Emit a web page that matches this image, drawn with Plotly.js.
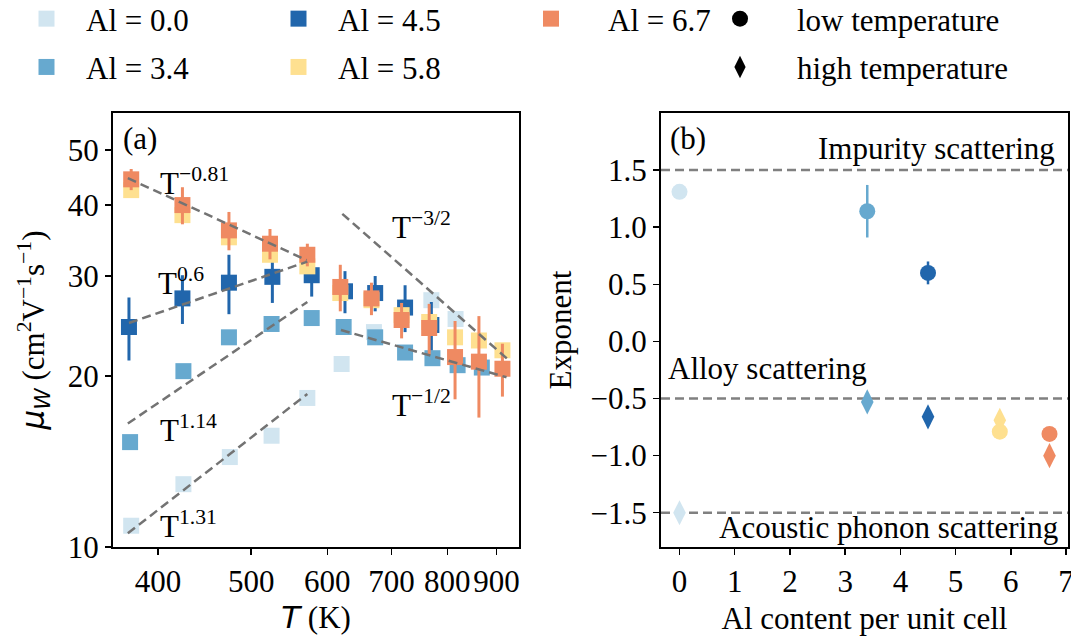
<!DOCTYPE html>
<html><head><meta charset="utf-8">
<script src="https://cdn.plot.ly/plotly-3.0.1.min.js"></script>
<style>html,body{margin:0;padding:0;background:#fff;}</style>
</head><body>
<div id="chart" style="width:1071px;height:640px;"></div>
<script>
// ---------- Panel (a): mobility vs temperature ----------
const seriesNames = ['Al = 0.0','Al = 3.4','Al = 4.5','Al = 5.8','Al = 6.7'];
const seriesColors = ['#d1e5f0','#67a9cf','#2166ac','#fee090','#ef8a62'];

const T_00  = [375, 425, 475, 525, 572, 621, 671, 770, 816];
const mu_00 = [10.9, 12.9, 14.4, 15.7, 18.3, 21.0, 23.9, 27.2, 25.2];

const T_34  = [374, 425, 474, 525, 578, 624, 673, 723, 772, 820, 869];
const mu_34 = [15.3, 20.4, 23.4, 24.7, 25.3, 24.4, 23.4, 22.0, 21.5, 20.9, 20.7];

const T_45   = [373, 424, 474, 526, 578, 626, 673, 723, 770];
const mu_45  = [24.4, 27.4, 29.2, 29.9, 30.1, 28.2, 28.0, 26.4, 24.6];
const err_45 = [3.1, 2.7, 3.5, 3.0, 2.5, 2.4, 2.0, 2.5, 2.4];

const T_58  = [375, 424, 474, 523, 572, 619, 667, 717, 766, 815, 863, 913];
const mu_58 = [42.5, 38.4, 35.1, 32.7, 31.2, 28.0, 27.2, 25.6, 24.9, 23.4, 23.1, 22.2];

const T_67   = [375, 424, 474, 523, 572, 619, 667, 717, 766, 815, 863, 913];
const mu_67  = [44.4, 40.0, 36.1, 34.2, 32.7, 28.7, 27.4, 25.1, 24.3, 21.6, 21.2, 20.6];
const err_67 = [1.9, 3.0, 2.8, 2.1, 1.5, 2.7, 1.8, 1.8, 2.5, 3.4, 4.3, 2.2];

// power-law guide lines (end points)
const fitT  = [[372, 571], [373, 572], [372, 572], [372, 572], [622, 925], [620, 922]];
const fitMu = [[44.6, 32.0], [24.8, 31.8], [16.5, 27.0], [10.57, 18.6], [38.6, 21.4], [24.1, 19.9]];

// ---------- Panel (b): exponents ----------
const alContent = [0.0, 3.4, 4.5, 5.8, 6.7];
const expLow    = [1.31, 1.14, 0.60, -0.79, -0.81];
const expLowErr = [0, 0.23, 0.10, 0, 0];
const expHigh   = [-1.50, -0.53, -0.66, -0.69, -1.00];
const expHighErr= [0, 0, 0.07, 0, 0];
const refLevels = [1.5, -0.5, -1.5];

const yTickVals_a = [10, 20, 30, 40, 50];
const xTickVals_a = [400, 500, 600, 700, 800, 900];
const yTickVals_b = [-1.5, -1.0, -0.5, 0.0, 0.5, 1.0, 1.5];
const yTickText_b = ['−1.5','−1.0','−0.5','0.0','0.5','1.0','1.5'];

const FONT = 'Liberation Serif, Times New Roman, serif';
const FS = 31;
const GUIDE = '#737373';

const aData = [
  {T: T_00, mu: mu_00, err: null},
  {T: T_34, mu: mu_34, err: null},
  {T: T_45, mu: mu_45, err: err_45},
  {T: T_58, mu: mu_58, err: null},
  {T: T_67, mu: mu_67, err: err_67}
];
const legendOf = ['legend','legend','legend2','legend2','legend3'];

const traces = [];
aData.forEach((d, i) => {
  const tr = {
    type: 'scatter', mode: 'markers', x: d.T, y: d.mu,
    xaxis: 'x', yaxis: 'y',
    name: seriesNames[i], legend: legendOf[i], legendgroup: 'g' + i,
    marker: {symbol: 'square', size: 16, color: seriesColors[i], line: {width: 0}},
    hoverinfo: 'skip'
  };
  if (d.err) {
    tr.error_y = {type: 'data', array: d.err, visible: true, color: seriesColors[i], thickness: 3, width: 0};
  }
  traces.push(tr);
});
fitT.forEach((t, k) => {
  traces.push({
    type: 'scatter', mode: 'lines', x: t, y: fitMu[k], xaxis: 'x', yaxis: 'y',
    line: {color: GUIDE, width: 2.5, dash: '9px,5px'}, showlegend: false, hoverinfo: 'skip'
  });
});
// panel (b) markers
alContent.forEach((a, i) => {
  const low = {
    type: 'scatter', mode: 'markers', x: [a], y: [expLow[i]], xaxis: 'x2', yaxis: 'y2',
    marker: {symbol: 'circle', size: 16, color: seriesColors[i]}, showlegend: false, hoverinfo: 'skip'
  };
  if (expLowErr[i] > 0) low.error_y = {type: 'data', array: [expLowErr[i]], color: seriesColors[i], thickness: 2.5, width: 0};
  const high = {
    type: 'scatter', mode: 'markers', x: [a], y: [expHigh[i]], xaxis: 'x2', yaxis: 'y2',
    marker: {symbol: 'diamond-tall', size: 18, color: seriesColors[i]}, showlegend: false, hoverinfo: 'skip'
  };
  if (expHighErr[i] > 0) high.error_y = {type: 'data', array: [expHighErr[i]], color: seriesColors[i], thickness: 2.5, width: 0};
  traces.push(low, high);
});
// legend-only entries for symbol meaning
traces.push({type: 'scatter', mode: 'markers', x: [null], y: [null], xaxis: 'x2', yaxis: 'y2',
  name: 'low temperature', legend: 'legend4', legendgroup: 'lo',
  marker: {symbol: 'circle', size: 16, color: '#000'}});
traces.push({type: 'scatter', mode: 'markers', x: [null], y: [null], xaxis: 'x2', yaxis: 'y2',
  name: 'high temperature', legend: 'legend4', legendgroup: 'hi',
  marker: {symbol: 'diamond-tall', size: 18, color: '#000'}});

// helpers for placing texts by pixel
const H = 640, TOP = 113, BOT = 547;
const px = v => v / 1071;
const py = v => (BOT - v) / (BOT - TOP);

const shapes = refLevels.map(v => ({
  type: 'line', xref: 'x2 domain', yref: 'y2', x0: 0, x1: 1, y0: v, y1: v,
  line: {color: '#808080', width: 2.5, dash: '9px,5px'}, layer: 'below'
}));

function ann(text, x, y, xanchor) {
  return {text, x: px(x), y: py(y), xref: 'paper', yref: 'paper', showarrow: false,
    xanchor: xanchor || 'left', yanchor: 'middle', font: {family: FONT, size: FS, color: '#000'}};
}
const annotations = [
  ann('(a)', 121, 138),
  ann('T<sup>−0.81</sup>', 158, 181),
  ann('T<sup>0.6</sup>', 156, 281),
  ann('T<sup>1.14</sup>', 158, 428),
  ann('T<sup>1.31</sup>', 158, 524),
  ann('T<sup>−3/2</sup>', 390, 225),
  ann('T<sup>−1/2</sup>', 390, 403),
  ann('(b)', 668, 138),
  ann('Impurity scattering', 1057, 148, 'right'),
  ann('Alloy scattering', 666, 368),
  ann('Acoustic phonon scattering', 1060, 527, 'right')
];

const axisCommon = {
  showline: true, mirror: true, linecolor: '#000', linewidth: 2,
  ticks: 'outside', ticklen: 6, tickwidth: 1.5, tickcolor: '#000',
  showgrid: false, zeroline: false, ticklabeloverflow: 'allow',
  tickfont: {family: FONT, size: FS, color: '#000'}
};
function legendAt(x, iw) {
  return {x: px(x), y: py(-8), xanchor: 'left', yanchor: 'top', orientation: 'v',
    bgcolor: 'rgba(0,0,0,0)', borderwidth: 0, itemwidth: iw, tracegroupgap: 5,
    font: {family: FONT, size: FS, color: '#000'}, itemclick: false, itemdoubleclick: false};
}

const layout = {
  width: 1071, height: 640,
  margin: {l: 0, r: 0, t: TOP, b: H - BOT, pad: 0, autoexpand: false},
  paper_bgcolor: '#fff', plot_bgcolor: '#fff',
  font: {family: FONT, size: FS, color: '#000'},
  xaxis: Object.assign({}, axisCommon, {
    type: 'log', range: [Math.log10(359), Math.log10(950)], domain: [113/1071, 519/1071],
    anchor: 'y', tickvals: xTickVals_a, ticktext: xTickVals_a.map(String),
    title: {text: '<span style="font-family:DejaVu Sans"><i>T</i></span> (K)', standoff: 6, font: {family: FONT, size: FS}}
  }),
  yaxis: Object.assign({}, axisCommon, {
    type: 'log', range: [1.0, Math.log10(58.1)], domain: [0, 1], anchor: 'x',
    tickvals: yTickVals_a, ticktext: yTickVals_a.map(String),
    title: {text: '<span style="font-family:DejaVu Sans"><i>μ</i><sub><i>W</i></sub></span> (cm<sup>2</sup>V<sup>−1</sup>s<sup>−1</sup>)', standoff: 14, font: {family: FONT, size: FS}}
  }),
  xaxis2: Object.assign({}, axisCommon, {
    range: [-0.335, 7.035], domain: [661/1071, 1068/1071], anchor: 'y2',
    tickvals: [0,1,2,3,4,5,6,7], ticktext: ['0','1','2','3','4','5','6','7'],
    title: {text: 'Al content per unit cell', standoff: 9, font: {family: FONT, size: FS}}
  }),
  yaxis2: Object.assign({}, axisCommon, {
    range: [-1.8, 2.0], domain: [0, 1], anchor: 'x2',
    tickvals: yTickVals_b, ticktext: yTickText_b,
    title: {text: 'Exponent', standoff: 10, font: {family: FONT, size: FS}}
  }),
  shapes, annotations,
  showlegend: true,
  legend: legendAt(7, 69),
  legend2: legendAt(259, 69),
  legend3: legendAt(494, 104),
  legend4: legendAt(683, 104)
};

Plotly.newPlot('chart', traces, layout, {staticPlot: true, displayModeBar: false});
</script>
</body></html>
